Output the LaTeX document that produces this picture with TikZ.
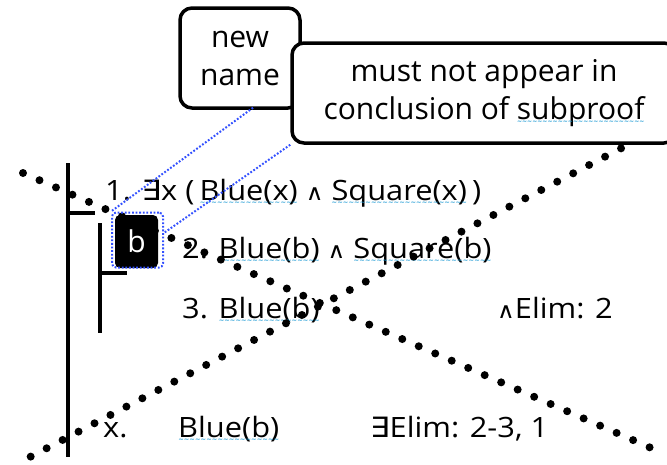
\documentclass[tikz,border=0pt]{standalone}
\usepackage{fontspec}
\usepackage{graphicx}
\setmainfont{Open Sans}
\newfontfamily\symf{DejaVu Sans}
\usetikzlibrary{calc}
\definecolor{selblue}{RGB}{50,80,255}
\definecolor{spellc}{RGB}{20,150,210}
% thin coloured wavy underline for flagged words
\newcommand\spell[1]{\setbox0=\hbox{#1}\rlap{\copy0}%
  \lower4pt\hbox to \wd0{\color{spellc}\xleaders\hbox{\fontsize{6}{6}\symf\bfseries ∼}\hfill}}
\newcommand\exsym{{\symf ∃}}
\newcommand\andsym{{\symf\fontsize{22}{22}\selectfont ∧}}
% proof text is set slightly wide
\newcommand\wide[1]{\scalebox{1.1}[1]{#1}}
\begin{document}
\begin{tikzpicture}[x=1pt,y=-1pt,
  proofline/.style={anchor=base west, inner sep=0, font=\fontsize{28}{34}\selectfont},
  callout/.style={draw, line width=3.5, rounded corners=12, fill=white, align=center,
    inner sep=0, font=\fontsize{30}{38}\selectfont},
  bar/.style={line width=4},
  dotline/.style={line width=8, line cap=round, dash pattern=on 0pt off 18pt},
  selline/.style={draw=selblue, line width=2, dash pattern=on 1.8pt off 1.8pt}]
\useasboundingbox (0,0) rectangle (667,464);
\clip (0,0) rectangle (667,464);

% proof bars
\draw[bar] (68,163) -- (68,457);
\draw[bar] (68,213) -- (95,213);
\draw[bar] (100,223) -- (100,333);
\draw[bar] (100,273) -- (127,273);

% proof lines
\node[proofline] (l1) at (105,200) {\wide{1. \exsym x (\,\spell{Blue(x)} \andsym\ \spell{Square(x)}\,)}};
\node[proofline] (l2) at (182,258) {\wide{2. \spell{Blue(b)} \andsym\ \spell{Square(b)}}};
\node[proofline] (l3) at (182,318) {\wide{3. \spell{Blue(b)}}};
\node[proofline] (r3) at (497,318) {\wide{\andsym Elim: 2}};
\node[proofline] (lx) at (103,437) {\wide{x.}};
\node[proofline] (lxb) at (178,437) {\wide{\spell{Blue(b)}}};
\node[proofline] (rx) at (370,437) {\wide{\exsym Elim: 2-3, 1}};

% crossing dotted lines
\draw[dotline] (23,173) -- (658,451);
\draw[dotline] (637,140) -- (28,458);

% boxed new name
\node[fill=black, rounded corners=5, minimum width=43, minimum height=53, inner sep=0,
  text=white, font=\fontsize{30}{36}\selectfont] (b) at (136.5,241.5) {b};
\node[selline, rounded corners=4, minimum width=51, minimum height=55, inner sep=0] (bsel) at (137.5,240) {};

% callouts
\node[callout, minimum width=120, minimum height=100] (newname) at (240,58) {new\\name};
\node[callout, minimum width=384, minimum height=100] (must) at (484,93)
  {must not appear in\\conclusion of \spell{subproof}};

% leaders from callouts to the name
\draw[selline] ($(newname.south)+(13,-2)$) -- (bsel.north west);
\draw[selline] (must.south west) -- (bsel.15);
\end{tikzpicture}
\end{document}
